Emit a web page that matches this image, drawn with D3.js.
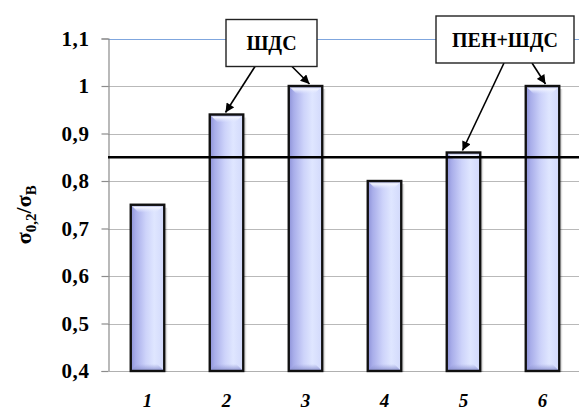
<!DOCTYPE html>
<html>
<head>
<meta charset="utf-8">
<script src="https://cdn.jsdelivr.net/npm/d3@7"></script>
<style>
  html, body { margin: 0; padding: 0; background: #fff; }
  svg { display: block; }
</style>
</head>
<body>
<script>
// Ratio of yield strength to tensile strength for six specimens
const categories = ["1", "2", "3", "4", "5", "6"];
const ratios = [0.75, 0.94, 1.0, 0.80, 0.86, 1.0];
const yTicks = [0.4, 0.5, 0.6, 0.7, 0.8, 0.9, 1.0, 1.1];
const yTickLabels = ["0,4", "0,5", "0,6", "0,7", "0,8", "0,9", "1", "1,1"];
const thresholdValue = 0.85;

// Callout boxes and the specimens they point at
const calloutLabels = ["ШДС", "ПЕН+ШДС"];
const calloutTargets = [["2", "3"], ["5", "6"]];

const W = 579, H = 410;
const plot = { left: 108, right: 582, top: 38.5, bottom: 371 };
const SERIF = "'Liberation Serif', 'Times New Roman', serif";

const svg = d3.select("body").append("svg")
  .attr("width", W).attr("height", H)
  .attr("font-family", SERIF);

const defs = svg.append("defs");

const barGrad = defs.append("linearGradient")
  .attr("id", "barFill").attr("x1", "0").attr("x2", "1").attr("y1", "0").attr("y2", "0");
[[0, "#8d92d8"], [0.15, "#a9aeea"], [0.45, "#cdd3fa"], [0.7, "#dfe6ff"], [1, "#d2d9fb"]]
  .forEach(([o, c]) => barGrad.append("stop").attr("offset", o).attr("stop-color", c));

const topGrad = defs.append("linearGradient")
  .attr("id", "bevelTop").attr("x1", "0").attr("x2", "0").attr("y1", "0").attr("y2", "1");
topGrad.append("stop").attr("offset", 0).attr("stop-color", "#8087c8");
topGrad.append("stop").attr("offset", 0.35).attr("stop-color", "#f4f6ff");
topGrad.append("stop").attr("offset", 1).attr("stop-color", "#dfe5ff").attr("stop-opacity", 0);

const botGrad = defs.append("linearGradient")
  .attr("id", "bevelBottom").attr("x1", "0").attr("x2", "0").attr("y1", "0").attr("y2", "1");
botGrad.append("stop").attr("offset", 0).attr("stop-color", "#9ba1dc").attr("stop-opacity", 0);
botGrad.append("stop").attr("offset", 1).attr("stop-color", "#8a90cf");

const arrowHead = defs.append("marker")
  .attr("id", "arrow").attr("viewBox", "0 0 10 10")
  .attr("refX", 10).attr("refY", 5)
  .attr("markerWidth", 10).attr("markerHeight", 9)
  .attr("markerUnits", "userSpaceOnUse")
  .attr("orient", "auto");
arrowHead.append("path").attr("d", "M0,0 L10,5 L0,10 Z").attr("fill", "#000");

const x = d3.scaleBand()
  .domain(categories)
  .range([plot.left, plot.right])
  .paddingInner(0.576)
  .paddingOuter(0.288);

const y = d3.scaleLinear()
  .domain([0.4, 1.1])
  .range([plot.bottom, plot.top]);

// Horizontal gridlines
svg.append("g")
  .selectAll("line")
  .data(yTicks)
  .join("line")
  .attr("x1", plot.left).attr("x2", W)
  .attr("y1", d => Math.round(y(d)) + 0.5).attr("y2", d => Math.round(y(d)) + 0.5)
  .attr("stroke", d => d === 1.1 ? "#7fa6de" : "#b9b9b9")
  .attr("stroke-width", 1.2);

// Left axis with tick marks and labels
const yAxis = d3.axisLeft(y)
  .tickValues(yTicks)
  .tickSize(7)
  .tickPadding(12)
  .tickFormat((d, i) => yTickLabels[i]);

const yg = svg.append("g")
  .attr("transform", `translate(${plot.left + 0.5},0)`)
  .call(yAxis)
  .attr("font-family", SERIF)
  .attr("font-size", 21)
  .attr("font-weight", "bold");
yg.select(".domain").attr("stroke", "#8c8c8c").attr("stroke-width", 1.2);
yg.selectAll(".tick line").attr("stroke", "#8c8c8c").attr("stroke-width", 1.2);
yg.selectAll(".tick text").attr("fill", "#000").attr("letter-spacing", 0.6);

// Bottom baseline
svg.append("line")
  .attr("x1", plot.left).attr("x2", W)
  .attr("y1", y(0.4) + 0.5).attr("y2", y(0.4) + 0.5)
  .attr("stroke", "#b0b0b0").attr("stroke-width", 1.2);

// Bars
const bars = svg.append("g").selectAll("g")
  .data(categories.map((c, i) => ({ cat: c, v: ratios[i] })))
  .join("g");

bars.append("rect")
  .attr("x", d => x(d.cat) + 3).attr("y", d => y(d.v) + 3)
  .attr("width", x.bandwidth()).attr("height", d => y(0.4) - y(d.v) - 2)
  .attr("fill", "#000").attr("opacity", 0.12);

bars.append("rect")
  .attr("x", d => x(d.cat)).attr("y", d => y(d.v))
  .attr("width", x.bandwidth()).attr("height", d => y(0.4) - y(d.v))
  .attr("fill", "url(#barFill)");

bars.append("path")
  .attr("d", d => {
    const x0 = x(d.cat), x1 = x0 + x.bandwidth(), t = y(d.v), b = 8;
    return `M${x0},${t} L${x1},${t} L${x1 - b},${t + b} L${x0 + b},${t + b} Z`;
  })
  .attr("fill", "url(#bevelTop)");

bars.append("path")
  .attr("d", d => {
    const x0 = x(d.cat), x1 = x0 + x.bandwidth(), bt = y(0.4), b = 7;
    return `M${x0},${bt} L${x1},${bt} L${x1 - b},${bt - b} L${x0 + b},${bt - b} Z`;
  })
  .attr("fill", "url(#bevelBottom)");

bars.append("rect")
  .attr("x", d => x(d.cat)).attr("y", d => y(d.v))
  .attr("width", x.bandwidth()).attr("height", d => y(0.4) - y(d.v))
  .attr("fill", "none").attr("stroke", "#111").attr("stroke-width", 2.4);

// Threshold line
svg.append("line")
  .attr("x1", plot.left).attr("x2", W)
  .attr("y1", y(thresholdValue)).attr("y2", y(thresholdValue))
  .attr("stroke", "#000").attr("stroke-width", 2.6);

// Category labels
svg.append("g").selectAll("text")
  .data(categories)
  .join("text")
  .attr("x", d => x(d) + x.bandwidth() / 2)
  .attr("y", 407)
  .attr("text-anchor", "middle")
  .attr("font-size", 19).attr("font-weight", "bold").attr("font-style", "italic")
  .text(d => d);

// Vertical axis title: σ0,2/σВ
const title = svg.append("text")
  .attr("transform", `translate(31,${(plot.top + plot.bottom) / 2 + 10}) rotate(-90)`)
  .attr("text-anchor", "middle")
  .attr("font-size", 22).attr("font-weight", "bold");
title.append("tspan").text("σ");
title.append("tspan").attr("font-size", 15).attr("dy", 5).text("0,2");
title.append("tspan").attr("dy", -5).text("/σ");
title.append("tspan").attr("font-size", 15).attr("dy", 5).text("В");

// Callouts with arrows to the bars they describe
const boxes = [
  { x0: 226, y0: 19.5, w: 91, h: 47 },
  { x0: 436, y0: 16, w: 138, h: 47 }
];
const arrowStarts = [[255, 292], [504, 532]];
const arrowShift = [[-1, 4], [-1, 3]];

calloutLabels.forEach((label, i) => {
  const b = boxes[i];
  calloutTargets[i].forEach((cat, j) => {
    const v = ratios[categories.indexOf(cat)];
    svg.append("line")
      .attr("x1", arrowStarts[i][j]).attr("y1", b.y0 + b.h)
      .attr("x2", x(cat) + x.bandwidth() / 2 + arrowShift[i][j]).attr("y2", y(v) - 2)
      .attr("stroke", "#000").attr("stroke-width", 1.6)
      .attr("marker-end", "url(#arrow)");
  });
  svg.append("rect")
    .attr("x", b.x0).attr("y", b.y0).attr("width", b.w).attr("height", b.h)
    .attr("fill", "#fff").attr("stroke", "#222").attr("stroke-width", 1.4);
  svg.append("text")
    .attr("x", b.x0 + b.w / 2).attr("y", b.y0 + b.h / 2 + 7)
    .attr("text-anchor", "middle")
    .attr("font-size", 20).attr("font-weight", "bold")
    .text(label);
});
</script>
</body>
</html>
